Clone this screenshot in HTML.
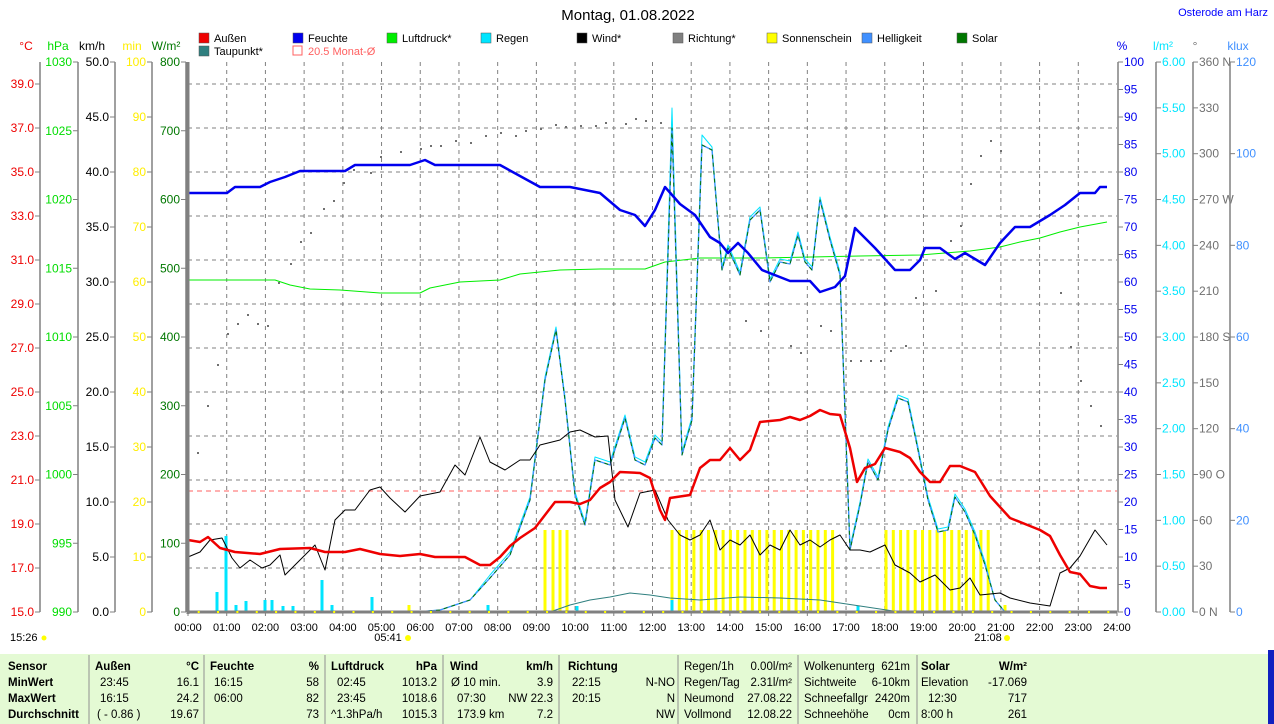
<!DOCTYPE html>
<html><head><meta charset="utf-8">
<style>
html,body{margin:0;padding:0;background:#fff;width:1274px;height:724px;overflow:hidden;font-family:"Liberation Sans",sans-serif}
svg{position:absolute;left:0;top:0}
svg text{font-family:"Liberation Sans",sans-serif;font-size:11px}
</style></head><body>
<svg id="s" width="1274" height="724" xmlns="http://www.w3.org/2000/svg"></svg>
<script>
const s=document.getElementById('s');let h='';
const X0=188,X1=1117,Y0=612,Y1=62,HW=(X1-X0)/24;
function t(x,y,str,c,a,extra){h+=`<text x="${x}" y="${y}" fill="${c}" text-anchor="${a||'start'}" ${extra||''}>${str}</text>`}
function ln(x1,y1,x2,y2,c,w,d){h+=`<line x1="${x1}" y1="${y1}" x2="${x2}" y2="${y2}" stroke="${c}" stroke-width="${w||1}" ${d?`stroke-dasharray="${d}"`:''}/>`}
function pl(a,c,w,d){let p=[];for(let i=0;i<a.length;i+=2)p.push(a[i]+','+a[i+1]);h+=`<polyline points="${p.join(' ')}" fill="none" stroke="${c}" stroke-width="${w}" stroke-linejoin="round" ${d?`stroke-dasharray="${d}"`:''}/>`}
t(628,20,'Montag, 01.08.2022','#000','middle','style="font-size:15px"');
t(1268,16,'Osterode am Harz','#0000ff','end','style="font-size:11px"');
for(let i=1;i<24;i++){let x=X0+i*HW;ln(x,Y1,x,Y0,'#808080',1,'4,4')}
for(let y=84;y<Y0;y+=44)ln(X0,y,X1,y,'#808080',1,'4,4');
function bar(x,y,c,w){h+=`<rect x="${x-1.5}" y="${y}" width="${w||3}" height="${Y0-y}" fill="${c}"/>`}
[545,553,560,567].forEach(x=>bar(x,530,'#ffff00'));
for(let x=672;x<=838;x+=7.3)bar(x,530,'#ffff00');
for(let x=886;x<=995;x+=7.3)bar(x,530,'#ffff00');
bar(409,605,'#ffff00');bar(1005,605,'#ffff00');
[[217,592],[226,536],[236,605],[246,601],[265,600],[272,600],[283,606],[293,606],[322,580],[332,605],[372,597],[488,605],[577,606],[672,600],[858,606]].forEach(p=>bar(p[0],p[1],'#00e5ff'));
ln(X0,491,X1,491,'#ff6060',1,'5,4');
const dots=[[197,452],[207,405],[217,364],[227,333],[237,323],[247,314],[257,323],[267,325],[278,282],[290,263],[300,241],[310,232],[323,208],[333,200],[343,182],[353,169],[370,172],[380,156],[400,151],[420,148],[430,145],[440,145],[455,140],[470,142],[485,135],[500,132],[515,135],[525,130],[540,128],[555,124],[565,126],[580,125],[595,125],[605,122],[625,123],[635,118],[645,120],[660,122],[745,320],[760,330],[790,345],[800,352],[820,325],[830,330],[850,360],[860,360],[870,360],[880,360],[890,350],[905,345],[915,297],[935,290],[950,240],[960,225],[970,183],[980,155],[990,140],[1000,150],[1060,292],[1070,346],[1080,380],[1090,405],[1100,425]];
dots.forEach(d=>h+=`<rect x="${d[0]}" y="${d[1]}" width="2" height="2" fill="#707070"/>`);
pl([550,612,570,605,590,600,610,597,630,593,650,595,670,598,700,600,740,597,780,598,820,600,860,606,900,612],'#2f7f7f',1);
pl([188,280,275,280,290,285,310,289,340,290,380,293,420,293,430,288,460,282,500,280,520,274,560,270,600,269,645,269,665,262,700,258,760,258,860,256,920,255,970,251,1000,247,1020,242,1040,238,1060,232,1080,227,1107,222],'#00ee00',1);
const sol=[188,612,415,612,440,610,470,600,490,578,510,555,530,500,545,380,556,330,565,400,575,495,585,525,595,460,610,465,625,418,635,460,645,465,655,438,662,445,672,128,682,455,692,420,702,145,712,150,722,270,728,248,740,275,750,220,760,210,770,282,780,262,790,264,798,235,805,262,812,270,820,200,830,240,840,275,850,550,860,505,868,462,878,480,888,430,898,398,908,402,918,450,928,500,938,532,948,530,955,497,965,512,975,535,985,565,995,600,1005,612,1117,612];
let cy=sol.slice();for(let i=0;i<cy.length;i+=2){if(cy[i]==672)cy[i+1]=108;else if(cy[i]==702)cy[i+1]=135;else if(cy[i+1]<600)cy[i+1]-=3;}
pl(cy,'#00e5ff',1);
pl(sol,'#4090ff',1.3);
pl(sol,'#007700',1,'4,4');
pl([188,557,200,552,210,540,222,538,232,558,240,568,250,560,262,568,270,565,280,555,285,575,295,565,305,555,315,545,325,570,335,520,345,510,355,510,370,490,380,487,390,498,405,512,420,496,440,492,455,465,465,475,480,437,490,462,505,470,520,460,530,460,540,445,560,440,570,432,580,430,595,437,608,436,615,500,628,527,640,493,655,490,668,520,680,535,690,540,700,535,710,520,720,550,730,540,740,545,750,535,760,555,770,545,780,550,790,530,800,545,810,540,820,547,830,540,840,535,850,550,860,550,870,552,885,545,895,565,910,573,920,582,935,575,950,590,960,588,970,578,980,595,1000,593,1010,598,1030,603,1050,606,1060,573,1070,568,1080,556,1095,530,1107,545],'#000',1);
pl([188,540,200,542,208,537,220,548,235,552,260,554,280,549,310,548,325,552,345,552,360,549,380,554,400,556,420,554,435,557,465,557,480,565,490,565,500,557,510,546,520,538,535,528,555,502,570,502,580,504,590,500,600,488,610,482,620,472,640,473,650,478,660,510,665,520,670,498,690,495,700,468,710,460,720,460,730,448,740,460,750,450,760,422,780,420,790,417,800,420,810,416,820,410,830,414,840,415,850,448,857,482,865,468,875,464,885,448,900,452,910,458,920,472,930,482,940,482,950,466,960,466,975,472,980,480,990,496,1010,518,1030,526,1040,530,1050,536,1060,555,1070,572,1080,574,1090,586,1100,588,1107,588],'#ee0000',2.5);
pl([188,193,227,193,235,187,260,187,270,182,285,177,300,171,345,171,355,165,410,165,425,160,435,165,500,165,540,187,570,187,600,193,620,210,635,215,645,226,655,210,665,187,680,204,695,215,710,237,720,243,728,253,738,243,748,253,762,270,790,281,810,281,820,292,835,287,845,276,855,228,875,248,895,270,910,270,920,260,925,248,940,248,955,259,965,253,985,265,1000,243,1015,227,1030,227,1040,221,1050,215,1065,205,1080,193,1095,193,1100,187,1107,187],'#0000ee',2.5);
ln(X0,Y1,X0,Y0+2,'#808080',3);ln(X0,Y0,X1,Y0,'#808080',3);
for(let i=0;i<=24;i++){let x=X0+i*HW;t(x,631,(i<10?'0':'')+i+':00','#000','middle');ln(x,Y0,x,Y0+4,'#808080',1)}
for(let i=0;i<48;i++){h+=`<rect x="${X0+i*HW/2+HW/4}" y="${Y0-1}" width="2" height="2" fill="#ffff00"/>`}
t(388,641,'05:41','#000','middle');h+=`<circle cx="408" cy="638" r="3" fill="#ffff00"/>`;
t(988,641,'21:08','#000','middle');h+=`<circle cx="1007" cy="638" r="3" fill="#ffff00"/>`;
t(10,641,'15:26','#000');h+=`<circle cx="44" cy="638" r="2.5" fill="#ffff00"/>`;
function lax(ax,col,vals,pos){ln(ax,Y1,ax,Y0,'#808080',1.5);vals.forEach((v,i)=>{let y=pos(i);ln(ax-5,y,ax,y,'#808080',1);t(ax-6,y+4,v,col,'end',`style="font-size:12px"`)})}
lax(40,'#ee0000',['15.0','17.0','19.0','21.0','23.0','25.0','27.0','29.0','31.0','33.0','35.0','37.0','39.0'],i=>Y0-i*44);
lax(78,'#00dd00',['990','995','1000','1005','1010','1015','1020','1025','1030'],i=>Y0-i*68.75);
lax(115,'#000',['0.0','5.0','10.0','15.0','20.0','25.0','30.0','35.0','40.0','45.0','50.0'],i=>Y0-i*55);
lax(152,'#ffee00',['0','10','20','30','40','50','60','70','80','90','100'],i=>Y0-i*55);
lax(186,'#007700',['0','100','200','300','400','500','600','700','800'],i=>Y0-i*68.75);
t(26,50,'°C','#ee0000','middle','style="font-size:12px"');t(58,50,'hPa','#00dd00','middle','style="font-size:12px"');
t(92,50,'km/h','#000','middle','style="font-size:12px"');t(132,50,'min','#ffee00','middle','style="font-size:12px"');
t(166,50,'W/m²','#007700','middle','style="font-size:12px"');
function rax(ax,col,vals,pos){ln(ax,Y1,ax,Y0,'#808080',1.5);vals.forEach((v,i)=>{let y=pos(i);ln(ax,y,ax+5,y,'#808080',1);t(ax+6,y+4,v,col,'start',`style="font-size:12px"`)})}
let pv=[];for(let i=0;i<=20;i++)pv.push(i*5);rax(1118,'#0000ee',pv,i=>Y0-i*27.5);
let lv=[];for(let i=0;i<=12;i++)lv.push((i*0.5).toFixed(2));rax(1156,'#00e5ff',lv,i=>Y0-i*45.83);
const dir={0:' N',3:' O',6:' S',9:' W',12:' N'};let dv=[];for(let i=0;i<=12;i++)dv.push(i*30+(dir[i]||''));rax(1193,'#707070',dv,i=>Y0-i*45.83);
let kv=[];for(let i=0;i<=6;i++)kv.push(i*20);rax(1230,'#4090ff',kv,i=>Y0-i*91.67);
t(1122,50,'%','#0000ee','middle','style="font-size:12px"');t(1163,50,'l/m²','#00e5ff','middle','style="font-size:12px"');
t(1195,50,'°','#707070','middle','style="font-size:12px"');t(1238,50,'klux','#4090ff','middle','style="font-size:12px"');
function leg(x,y,c,str,tc){h+=`<rect x="${x}" y="${y-9}" width="10" height="10" fill="${c}" stroke="#555" stroke-width="0.5"/>`;t(x+15,y,str,tc||'#000')}
leg(199,42,'#ee0000','Außen');leg(293,42,'#0000ee','Feuchte');leg(387,42,'#00ee00','Luftdruck*');leg(481,42,'#00e5ff','Regen');
leg(577,42,'#000','Wind*');leg(673,42,'#808080','Richtung*');leg(767,42,'#ffff00','Sonnenschein');leg(862,42,'#4090ff','Helligkeit');leg(957,42,'#007700','Solar');
leg(199,55,'#2f7f7f','Taupunkt*');h+=`<rect x="293" y="46" width="9" height="9" fill="none" stroke="#ff6060"/>`;t(308,55,'20.5 Monat-Ø','#ff6060');
// table
h+=`<rect x="0" y="654" width="1268" height="70" fill="#e4fad4"/>`;
h+=`<rect x="1268" y="650" width="6" height="74" fill="#1020c0"/>`;
[89,204,325,443,559,678,798,917].forEach(x=>ln(x,655,x,724,'#909090',1));
const B='style="font-size:11.5px;font-weight:bold"',R='style="font-size:11.5px"';
const rows=[670,686,702,718];
function tt(x,r,str,a,b){t(x,rows[r],str,'#000',a||'start',b?B:R)}
tt(8,0,'Sensor',0,1);tt(8,1,'MinWert',0,1);tt(8,2,'MaxWert',0,1);tt(8,3,'Durchschnitt',0,1);
tt(95,0,'Außen',0,1);tt(199,0,'°C','end',1);tt(100,1,'23:45');tt(199,1,'16.1','end');tt(100,2,'16:15');tt(199,2,'24.2','end');tt(97,3,'( - 0.86 )');tt(199,3,'19.67','end');
tt(210,0,'Feuchte',0,1);tt(319,0,'%','end',1);tt(214,1,'16:15');tt(319,1,'58','end');tt(214,2,'06:00');tt(319,2,'82','end');tt(319,3,'73','end');
tt(331,0,'Luftdruck',0,1);tt(437,0,'hPa','end',1);tt(337,1,'02:45');tt(437,1,'1013.2','end');tt(337,2,'23:45');tt(437,2,'1018.6','end');tt(331,3,'^1.3hPa/h');tt(437,3,'1015.3','end');
tt(450,0,'Wind',0,1);tt(553,0,'km/h','end',1);tt(451,1,'Ø 10 min.');tt(553,1,'3.9','end');tt(457,2,'07:30');tt(553,2,'NW 22.3','end');tt(457,3,'173.9 km');tt(553,3,'7.2','end');
tt(568,0,'Richtung',0,1);tt(572,1,'22:15');tt(572,2,'20:15');tt(675,1,'N-NO','end');tt(675,2,'N','end');tt(675,3,'NW','end');
tt(684,0,'Regen/1h');tt(792,0,'0.00l/m²','end');tt(684,1,'Regen/Tag');tt(792,1,'2.31l/m²','end');tt(684,2,'Neumond');tt(792,2,'27.08.22','end');tt(684,3,'Vollmond');tt(792,3,'12.08.22','end');
tt(804,0,'Wolkenunterg');tt(910,0,'621m','end');tt(804,1,'Sichtweite');tt(910,1,'6-10km','end');tt(804,2,'Schneefallgr');tt(910,2,'2420m','end');tt(804,3,'Schneehöhe');tt(910,3,'0cm','end');
tt(921,0,'Solar',0,1);tt(1027,0,'W/m²','end',1);tt(921,1,'Elevation');tt(1027,1,'-17.069','end');tt(928,2,'12:30');tt(1027,2,'717','end');tt(921,3,'8:00 h');tt(1027,3,'261','end');
s.innerHTML=h;
</script>
</body></html>
